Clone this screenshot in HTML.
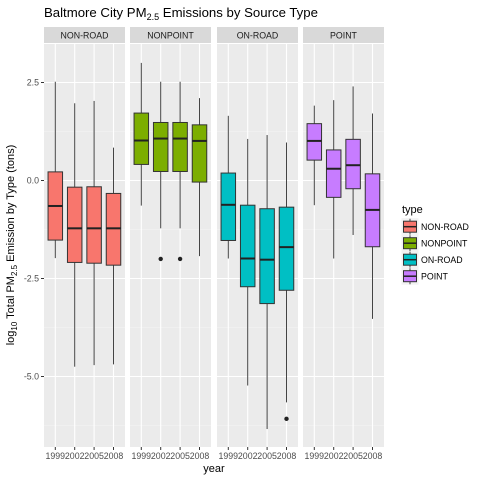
<!DOCTYPE html>
<html><head><meta charset="utf-8"><style>
html,body{margin:0;padding:0;background:#fff;}
svg{display:block;font-family:"Liberation Sans",sans-serif;}
</style></head><body>
<svg id="chart" width="480" height="480" viewBox="0 0 480 480" xmlns="http://www.w3.org/2000/svg">
<text x="44" y="17" font-size="13.2" fill="#000">Baltmore City PM<tspan font-size="9" dy="3">2.5</tspan><tspan dy="-3"> Emissions by Source Type</tspan></text>
<text transform="translate(14,245) rotate(-90)" text-anchor="middle" font-size="11" fill="#000">log<tspan font-size="8" dy="3">10</tspan><tspan dy="-3"> Total PM</tspan><tspan font-size="8" dy="3">2.5</tspan><tspan dy="-3"> Emission by Type (tons)</tspan></text>
<text x="214" y="472" text-anchor="middle" font-size="11" fill="#000">year</text>
<g id="panels"></g>
<g id="legend"></g>
</svg>
<script>
const facets = ["NON-ROAD","NONPOINT","ON-ROAD","POINT"];
const years = ["1999","2002","2005","2008"];
const colors = ["#F8766D","#7CAE00","#00BFC4","#C77CFF"];
const yTicks = [2.5, 0, -2.5, -5];
const yTickLabels = ["2.5","0.0","-2.5","-5.0"];
// per facet: [year][lowWhisker, Q1, median, Q3, highWhisker]
const nonRoad = [[-1.98,-1.52,-0.65,0.22,2.52],[-4.75,-2.09,-1.22,-0.17,1.97],[-4.71,-2.11,-1.22,-0.16,2.03],[-4.69,-2.16,-1.22,-0.33,0.84]];
const nonPoint = [[-0.64,0.41,1.02,1.72,3.0],[-1.22,0.23,1.07,1.48,2.52],[-1.22,0.23,1.07,1.48,2.52],[-1.93,-0.04,1.01,1.42,2.10]];
const onRoad = [[-1.99,-1.53,-0.62,0.19,1.65],[-5.23,-2.71,-1.99,-0.63,1.06],[-6.34,-3.14,-2.02,-0.72,1.16],[-5.66,-2.80,-1.70,-0.68,0.97]];
const pointStats = [[-0.63,0.52,1.01,1.45,1.91],[-1.99,-0.43,0.30,0.78,2.05],[-1.39,-0.21,0.39,1.05,2.40],[-3.53,-1.69,-0.75,0.17,1.71]];
const outliers = [[],[[1,-2.0],[2,-2.0]],[[3,-6.08]],[]];
const stats = [nonRoad, nonPoint, onRoad, pointStats];

const NS="http://www.w3.org/2000/svg";
const panelX=[44,130,217,303], panelW=81, pTop=44, pBottom=447, stripTop=27;
function yScale(v){return 180.5 - v*39.2;}
function xScale(p,i){return panelX[p] + 11.3 + i*19.4;}
function mk(tag,attrs,parent){const e=document.createElementNS(NS,tag);for(const k in attrs)e.setAttribute(k,attrs[k]);parent.appendChild(e);return e;}
const g=document.getElementById('panels');
yTicks.forEach((t,k)=>{
  const tl=mk('line',{x1:41,x2:44,y1:yScale(t),y2:yScale(t),stroke:'#333','stroke-width':1},g);
  
  
  const tx=mk('text',{x:39,y:yScale(t)+3,'text-anchor':'end','font-size':8.8,fill:'#4d4d4d'},g);
  tx.textContent=yTickLabels[k];
  
  
});
facets.forEach((f,p)=>{
  const pg=mk('g',{},g);
  
  
  mk('rect',{x:panelX[p],y:pTop,width:panelW,height:pBottom-pTop,fill:'#EBEBEB'},pg);
  [3.75,1.25,-1.25,-3.75,-6.25].forEach(v=>mk('line',{x1:panelX[p],x2:panelX[p]+panelW,y1:yScale(v),y2:yScale(v),stroke:'#F5F5F5','stroke-width':0.6},pg));
  yTicks.forEach(v=>mk('line',{x1:panelX[p],x2:panelX[p]+panelW,y1:yScale(v),y2:yScale(v),stroke:'#fff','stroke-width':1.1},pg));
  years.forEach((yr,i)=>{
    mk('line',{x1:xScale(p,i),x2:xScale(p,i),y1:pTop,y2:pBottom,stroke:'#fff','stroke-width':1.1},pg);
    mk('line',{x1:xScale(p,i),x2:xScale(p,i),y1:pBottom,y2:pBottom+3,stroke:'#333'},pg);
    const lt=mk('text',{x:xScale(p,i),y:pBottom+12,'text-anchor':'middle','font-size':8.8,fill:'#4d4d4d'},pg);
    lt.textContent=yr;
    
    
  });
  const st=mk('rect',{x:panelX[p],y:stripTop,width:panelW,height:pTop-stripTop-1,fill:'#D9D9D9'},pg);
  
  
  const stt=mk('text',{x:panelX[p]+panelW/2,y:stripTop+11.5,'text-anchor':'middle','font-size':8.8,fill:'#1a1a1a'},pg);
  stt.textContent=f;
  stats[p].forEach((s,i)=>{
    const bx=mk('g',{},pg);
    
    
    const cx=xScale(p,i), w=14.5;
    mk('line',{x1:cx,x2:cx,y1:yScale(s[4]),y2:yScale(s[3]),stroke:'#444','stroke-width':1},bx);
    mk('line',{x1:cx,x2:cx,y1:yScale(s[1]),y2:yScale(s[0]),stroke:'#444','stroke-width':1},bx);
    mk('rect',{x:cx-w/2,y:yScale(s[3]),width:w,height:yScale(s[1])-yScale(s[3]),fill:colors[p],stroke:'#333','stroke-width':1},bx);
    mk('line',{x1:cx-w/2,x2:cx+w/2,y1:yScale(s[2]),y2:yScale(s[2]),stroke:'#222','stroke-width':2},bx);
  });
  outliers[p].forEach(o=>{
    const c=mk('circle',{cx:xScale(p,o[0]),cy:yScale(o[1]),r:2.2,fill:'#222'},pg);
    
    
  });
});
const lg=document.getElementById('legend');
const lgt=mk('text',{x:402,y:213,'font-size':11,fill:'#000'},lg);
lgt.textContent='type';
facets.forEach((f,i)=>{
  const cy=226.7+i*16.5;
  const e=mk('g',{},lg);
  
  
  mk('rect',{x:401.5,y:cy-8.5,width:17,height:17,fill:'#F2F2F2'},e);
  mk('line',{x1:410,x2:410,y1:cy-8,y2:cy+8,stroke:'#444'},e);
  mk('rect',{x:403.5,y:cy-5.5,width:13,height:11,fill:colors[i],stroke:'#333'},e);
  mk('line',{x1:403.5,x2:416.5,y1:cy,y2:cy,stroke:'#222','stroke-width':1.5},e);
  const t=mk('text',{x:421,y:cy+3.2,'font-size':8.8,fill:'#000'},e);
  t.textContent=f;
});
</script>
</body></html>
